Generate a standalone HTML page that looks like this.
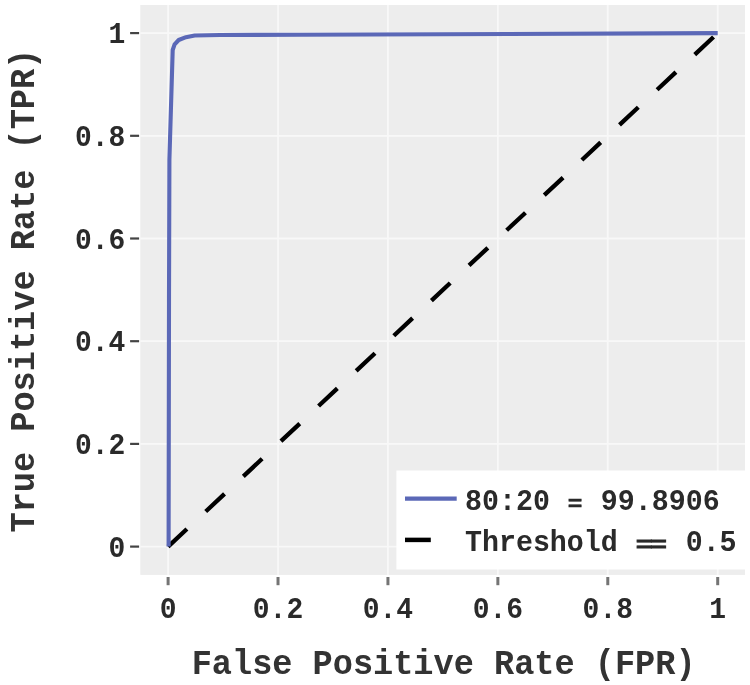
<!DOCTYPE html>
<html lang="en">
<head>
<meta charset="utf-8">
<title>ROC Curve</title>
<style>
html,body{margin:0;padding:0;background:#fff;}
body{width:750px;height:685px;overflow:hidden;}
svg{display:block;}
text{font-family:"Liberation Mono","DejaVu Sans Mono",monospace;fill:#2a2a2a;}
.tick{font-size:28px;font-weight:bold;}
.title{font-size:33.6px;font-weight:bold;fill:#333;}
.leg{font-size:28.3px;font-weight:bold;}
</style>
</head>
<body>
<svg width="750" height="685" viewBox="0 0 750 685">
  <rect x="0" y="0" width="750" height="685" fill="#ffffff"/>
  <!-- plot background -->
  <rect x="140.3" y="5.0" width="604.7" height="569.9" fill="#ededed"/>
  <!-- grid -->
  <g stroke="#f8f8f8" stroke-width="1.8" fill="none">
    <line x1="168.1" y1="5.0" x2="168.1" y2="574.9"/>
    <line x1="278.02" y1="5.0" x2="278.02" y2="574.9"/>
    <line x1="387.94" y1="5.0" x2="387.94" y2="574.9"/>
    <line x1="497.86" y1="5.0" x2="497.86" y2="574.9"/>
    <line x1="607.78" y1="5.0" x2="607.78" y2="574.9"/>
    <line x1="717.7" y1="5.0" x2="717.7" y2="574.9"/>
    <line x1="140.3" y1="546.6" x2="745.0" y2="546.6"/>
    <line x1="140.3" y1="443.9" x2="745.0" y2="443.9"/>
    <line x1="140.3" y1="341.2" x2="745.0" y2="341.2"/>
    <line x1="140.3" y1="238.5" x2="745.0" y2="238.5"/>
    <line x1="140.3" y1="135.8" x2="745.0" y2="135.8"/>
    <line x1="140.3" y1="33.1" x2="745.0" y2="33.1"/>
  </g>
  <!-- x ticks -->
  <g stroke="#747474" stroke-width="3" fill="none">
    <line x1="168.1" y1="577" x2="168.1" y2="585.2"/>
    <line x1="278.02" y1="577" x2="278.02" y2="585.2"/>
    <line x1="387.94" y1="577" x2="387.94" y2="585.2"/>
    <line x1="497.86" y1="577" x2="497.86" y2="585.2"/>
    <line x1="607.78" y1="577" x2="607.78" y2="585.2"/>
    <line x1="717.7" y1="577" x2="717.7" y2="585.2"/>
  </g>
  <!-- y ticks -->
  <g stroke="#444444" stroke-width="2.2" fill="none">
    <line x1="130.1" y1="546.6" x2="139.1" y2="546.6"/>
    <line x1="130.1" y1="443.9" x2="139.1" y2="443.9"/>
    <line x1="130.1" y1="341.2" x2="139.1" y2="341.2"/>
    <line x1="130.1" y1="238.5" x2="139.1" y2="238.5"/>
    <line x1="130.1" y1="135.8" x2="139.1" y2="135.8"/>
    <line x1="130.1" y1="33.1" x2="139.1" y2="33.1"/>
  </g>
  <!-- dashed diagonal -->
  <line x1="168.1" y1="546.6" x2="717.7" y2="33.1" stroke="#000" stroke-width="4.3" stroke-dasharray="25.74 25.74"/>
  <!-- ROC curve -->
  <path d="M168.6,546.6 L169,300 L169.4,160 L172.7,50 L174.6,44.4 L178.7,40 L186,37.2 L194.7,35.5 L220,35 L300,34.8 L717.7,33.1" fill="none" stroke="#5b68b7" stroke-width="4.1" stroke-linejoin="round"/>
  <!-- legend -->
  <rect x="396.4" y="470.5" width="353.6" height="99" fill="#ffffff"/>
  <line x1="405" y1="498.7" x2="456.7" y2="498.7" stroke="#5b68b7" stroke-width="4.2"/>
  <line x1="405" y1="539.9" x2="430.8" y2="539.9" stroke="#000" stroke-width="4.5"/>
  <text class="leg" transform="translate(465,509.6) scale(1,1.05)" xml:space="preserve">80:20   99.8906</text>
  <text class="leg" transform="translate(575.1,509.5) scale(0.86,0.72)" text-anchor="middle" stroke="#2a2a2a" stroke-width="0.9">=</text>
  <text class="leg" transform="translate(465,550.6) scale(1,1.05)" xml:space="preserve">Threshold    0.5</text>
  <text class="leg" transform="translate(649.9,550.5) scale(1.0,0.72)" text-anchor="middle" letter-spacing="-2.8" stroke="#2a2a2a" stroke-width="1.1">==</text>
  <!-- y tick labels -->
  <g class="tick" text-anchor="end">
    <text transform="translate(125.3,556.6) scale(1,1.05)">0</text>
    <text transform="translate(125.3,453.9) scale(1,1.05)">0.2</text>
    <text transform="translate(125.3,351.2) scale(1,1.05)">0.4</text>
    <text transform="translate(125.3,248.5) scale(1,1.05)">0.6</text>
    <text transform="translate(125.3,145.8) scale(1,1.05)">0.8</text>
    <text transform="translate(125.3,43.1) scale(1,1.05)">1</text>
  </g>
  <!-- x tick labels -->
  <g class="tick" text-anchor="middle">
    <text transform="translate(168.1,617.7) scale(1,1.04)">0</text>
    <text transform="translate(278.02,617.7) scale(1,1.04)">0.2</text>
    <text transform="translate(387.94,617.7) scale(1,1.04)">0.4</text>
    <text transform="translate(497.86,617.7) scale(1,1.04)">0.6</text>
    <text transform="translate(607.78,617.7) scale(1,1.04)">0.8</text>
    <text transform="translate(717.7,617.7) scale(1,1.04)">1</text>
  </g>
  <!-- axis titles -->
  <text class="title" text-anchor="middle" transform="translate(443.6,674.3) scale(1,1.07)">False Positive Rate (FPR)</text>
  <text class="title" text-anchor="middle" transform="translate(33.8,290.6) rotate(-90) scale(1,1.07)">True Positive Rate (TPR)</text>
</svg>
</body>
</html>
